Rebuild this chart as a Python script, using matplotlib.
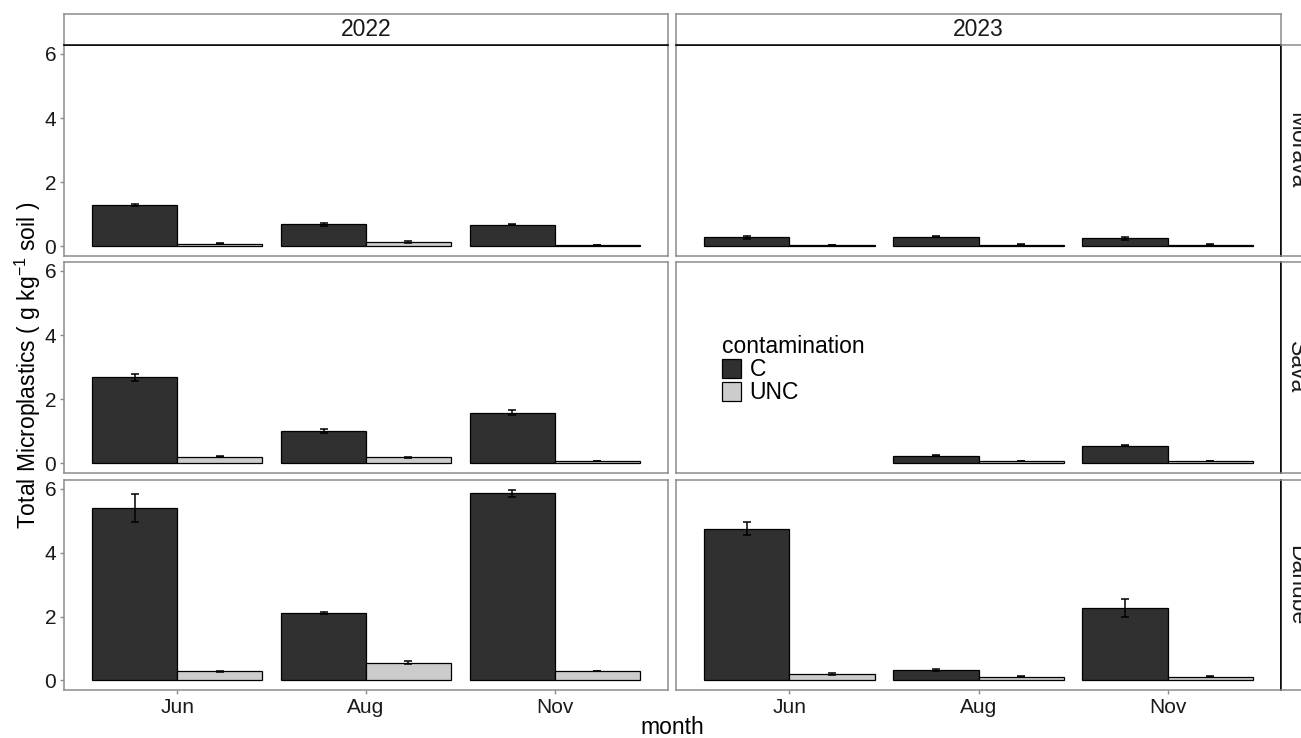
import numpy as np
import matplotlib
matplotlib.use('Agg')
import matplotlib.pyplot as plt

plt.rcParams['font.family'] = ['Liberation Sans', 'DejaVu Sans']
plt.rcParams['mathtext.fontset'] = 'custom'
plt.rcParams['mathtext.rm'] = 'Liberation Sans'
plt.rcParams['mathtext.it'] = 'Liberation Sans:italic'

months = ['Jun', 'Aug', 'Nov']
years = ['2022', '2023']
rivers = ['Morava', 'Sava', 'Danube']
groups = ['C', 'UNC']

# mean and standard error per river, rows = year, columns = month
morava_c = [[1.29, 0.69, 0.68], [0.29, 0.30, 0.25]]
morava_c_se = [[0.02, 0.05, 0.01], [0.05, 0.01, 0.05]]
morava_unc = [[0.09, 0.14, 0.04], [0.04, 0.05, 0.05]]
morava_unc_se = [[0.01, 0.04, 0.01], [0.01, 0.01, 0.01]]

sava_c = [[2.68, 1.02, 1.58], [np.nan, 0.24, 0.55]]
sava_c_se = [[0.10, 0.06, 0.07], [np.nan, 0.02, 0.01]]
sava_unc = [[0.21, 0.19, 0.08], [np.nan, 0.07, 0.07]]
sava_unc_se = [[0.01, 0.01, 0.01], [np.nan, 0.01, 0.01]]

danube_c = [[5.40, 2.11, 5.86], [4.75, 0.33, 2.27]]
danube_c_se = [[0.44, 0.04, 0.12], [0.20, 0.03, 0.28]]
danube_unc = [[0.29, 0.56, 0.30], [0.20, 0.12, 0.12]]
danube_unc_se = [[0.01, 0.05, 0.01], [0.02, 0.01, 0.02]]

data = {
    'Morava': (morava_c, morava_c_se, morava_unc, morava_unc_se),
    'Sava': (sava_c, sava_c_se, sava_unc, sava_unc_se),
    'Danube': (danube_c, danube_c_se, danube_unc, danube_unc_se),
}

W, H = 1301, 738
DARK = '#303030'
LIGHT = '#cccccc'
BORDER = '#8c8c8c'
TEXT = '#1a1a1a'
FS = 16.5      # titles, strips, legend
FS_TICK = 15


def px(x0, y0, x1, y1):
    return [x0 / W, 1 - y1 / H, (x1 - x0) / W, (y1 - y0) / H]


col_x = [(64, 668), (676, 1281)]
row_y = [(45, 256), (262, 473), (480, 690)]

# shared y range: top of the tallest error bar plus 5% padding
ymax = max(np.nanmax(np.array(c) + np.array(s)) for c, s, _, _ in data.values())
pad = 0.05 * ymax

fig = plt.figure(figsize=(W / 100, H / 100), dpi=100)

x = np.arange(len(months))
bw = 0.45
bars = None
for r, river in enumerate(rivers):
    c, c_se, u, u_se = data[river]
    for k, year in enumerate(years):
        ax = fig.add_axes(px(col_x[k][0], row_y[r][0], col_x[k][1], row_y[r][1]))
        b1 = ax.bar(x - bw / 2, c[k], width=bw, color=DARK, edgecolor='black', linewidth=0.9, label='C')
        b2 = ax.bar(x + bw / 2, u[k], width=bw, color=LIGHT, edgecolor='black', linewidth=0.9, label='UNC')
        ax.errorbar(x - bw / 2, c[k], yerr=c_se[k], fmt='none', ecolor='black',
                    elinewidth=1.1, capsize=3, capthick=1.1)
        ax.errorbar(x + bw / 2, u[k], yerr=u_se[k], fmt='none', ecolor='black',
                    elinewidth=1.1, capsize=3, capthick=1.1)
        if bars is None:
            bars = (b1, b2)
        ax.set_xlim(-0.6, len(months) - 0.4)
        ax.set_ylim(-pad, ymax + pad)
        ax.set_xticks(x)
        ax.set_yticks([0, 2, 4, 6])
        ax.tick_params(color=BORDER, length=3, width=1, labelsize=FS_TICK, labelcolor=TEXT, pad=2.5)
        if r == len(rivers) - 1:
            ax.set_xticklabels(months)
        else:
            ax.tick_params(axis='x', bottom=False, labelbottom=False)
        if k == 0:
            ax.set_yticklabels(['0', '2', '4', '6'])
        else:
            ax.tick_params(axis='y', left=False, labelleft=False)
        for sp in ax.spines.values():
            sp.set_color(BORDER)
            sp.set_linewidth(1.1)
        if r == 0:
            ax.spines['top'].set_color('black')
        if k == 1:
            ax.spines['right'].set_color('black')

# facet strips
for k, year in enumerate(years):
    sax = fig.add_axes(px(col_x[k][0], 14, col_x[k][1], 45))
    sax.set_xticks([])
    sax.set_yticks([])
    for sp in sax.spines.values():
        sp.set_color(BORDER)
        sp.set_linewidth(1.1)
    sax.spines['bottom'].set_color('black')
    sax.text(0.5, 0.5, year, ha='center', va='center', fontsize=FS, color=TEXT,
             transform=sax.transAxes)

# row strips run off the right edge of the canvas, so the labels are cut
for r, river in enumerate(rivers):
    sax = fig.add_axes(px(1281, row_y[r][0], 1330, row_y[r][1]))
    sax.set_xticks([])
    sax.set_yticks([])
    for sp in sax.spines.values():
        sp.set_color(BORDER)
        sp.set_linewidth(1.1)
    sax.spines['left'].set_color('black')
    fig.text(1285 / W, 1 - (row_y[r][0] + row_y[r][1]) / 2 / H, river, rotation=-90,
             ha='left', va='center', fontsize=FS, color=TEXT)

fig.text(28 / W, 1 - 365 / H, r'Total Microplastics ( g kg$^{-1}$ soil )', rotation=90,
         ha='center', va='center', fontsize=FS, color='black')
fig.text(672 / W, 1 - 728 / H, 'month', ha='center', va='center', fontsize=FS, color='black')

leg = fig.legend(bars, groups, title='contamination', loc='upper left',
                 bbox_to_anchor=(722 / W, 1 - 335 / H), frameon=False, fontsize=FS,
                 title_fontsize=FS, handlelength=0.85, handleheight=0.9,
                 labelspacing=0.0, handletextpad=0.35, borderpad=0, borderaxespad=0,
                 alignment='left')

fig.savefig('out.png', dpi=100)
